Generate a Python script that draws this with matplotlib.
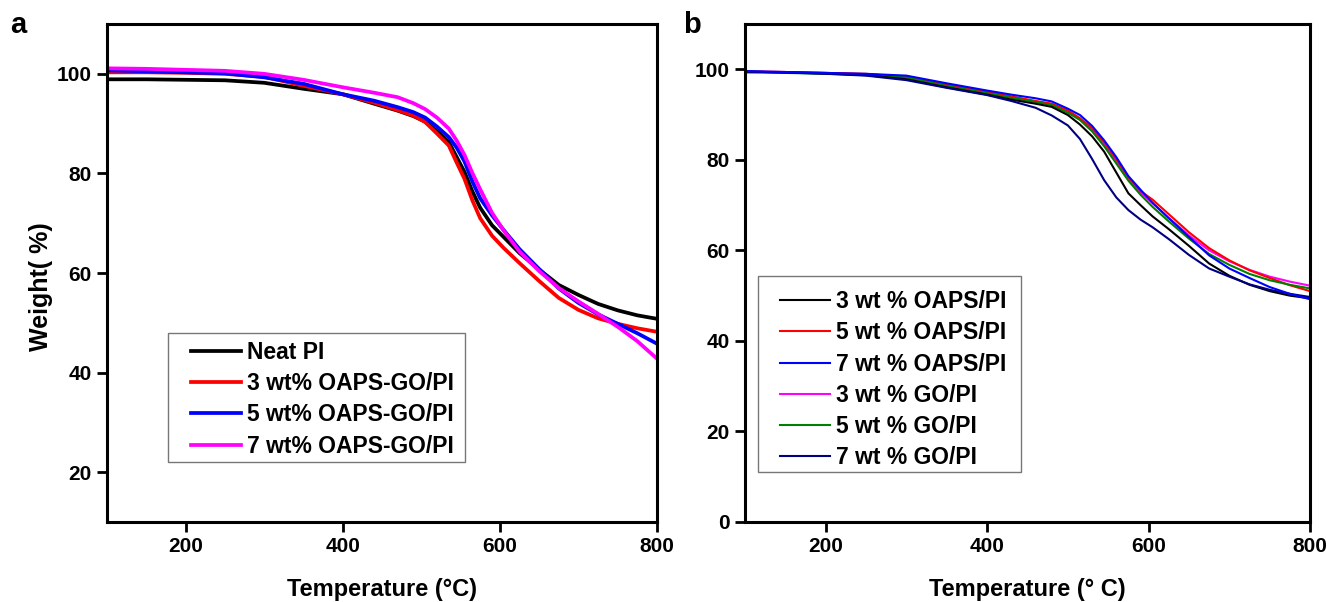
import matplotlib
matplotlib.use('Agg')
import matplotlib.pyplot as plt
from matplotlib.patches import Rectangle

# TGA curves, panel a: neat PI and OAPS-GO/PI composites
temp_a = [100, 150, 200, 250, 300, 350, 400, 440, 470, 490, 505, 520, 535, 545, 555, 565,
          575, 590, 605, 625, 650, 675, 700, 725, 750, 775, 800]
neat_pi = [98.9, 98.9, 98.8, 98.7, 98.2, 97.0, 95.9, 94.0, 92.6, 91.5, 90.4, 88.5, 86.3, 83.3, 80.3, 76.4,
           73.1, 69.6, 67.2, 64.0, 60.7, 57.6, 55.6, 53.8, 52.5, 51.5, 50.8]
oaps_go_3 = [100.3, 100.3, 100.2, 100.0, 99.4, 97.6, 95.9, 94.2, 92.7, 91.6, 90.3, 88.0, 85.6, 82.2, 78.9, 74.6,
             71.0, 67.5, 65.0, 62.0, 58.4, 55.0, 52.6, 50.9, 49.8, 48.9, 48.2]
oaps_go_5 = [100.7, 100.5, 100.3, 100.1, 99.3, 98.0, 95.9, 94.6, 93.3, 92.3, 91.2, 89.4, 87.3, 85.2, 82.4, 78.4,
             75.0, 71.6, 68.6, 64.8, 60.8, 56.9, 54.0, 51.7, 49.8, 47.9, 45.8]
oaps_go_7 = [101.1, 101.0, 100.8, 100.6, 100.0, 98.8, 97.3, 96.2, 95.3, 94.1, 92.9, 91.2, 89.0, 86.6, 83.7, 80.1,
             76.8, 72.1, 68.5, 64.3, 60.4, 57.0, 54.3, 51.8, 49.2, 46.3, 42.8]
labels_a = ['Neat PI', '3 wt% OAPS-GO/PI', '5 wt% OAPS-GO/PI', '7 wt% OAPS-GO/PI']

# panel b: OAPS/PI and GO/PI composites
temp_b = [100, 150, 200, 250, 300, 350, 400, 430, 460, 480, 500, 515, 530, 545, 560, 575,
          590, 605, 625, 650, 675, 700, 725, 750, 775, 800]
oaps_3 = [99.5, 99.3, 99.1, 98.7, 97.8, 96.0, 94.4, 93.3, 92.4, 91.7, 89.9, 87.8, 85.2, 81.8, 77.2, 72.6,
          70.0, 67.5, 64.7, 61.0, 57.1, 54.4, 52.4, 51.0, 50.0, 49.4]
oaps_5 = [99.5, 99.4, 99.2, 99.0, 98.3, 96.6, 95.0, 94.0, 93.0, 92.4, 90.9, 89.2, 87.0, 83.9, 80.2, 76.2,
          73.1, 71.2, 68.0, 64.0, 60.5, 57.8, 55.6, 53.9, 52.3, 51.0]
oaps_7 = [99.6, 99.4, 99.2, 99.0, 98.6, 96.9, 95.3, 94.4, 93.6, 92.9, 91.3, 89.9, 87.5, 84.3, 80.6, 76.4,
          73.4, 70.5, 67.1, 63.0, 58.9, 56.0, 53.9, 51.9, 50.4, 49.2]
go_3 = [99.5, 99.4, 99.2, 98.9, 98.2, 96.5, 94.9, 93.9, 92.9, 92.3, 90.6, 89.0, 86.6, 83.4, 79.7, 75.8,
        72.8, 70.4, 67.2, 63.3, 60.0, 57.6, 55.7, 54.2, 53.1, 52.2]
go_5 = [99.3, 99.2, 99.0, 98.8, 98.2, 96.3, 94.7, 93.7, 92.8, 92.1, 90.4, 88.8, 86.3, 83.0, 79.2, 75.4,
        72.3, 69.6, 66.4, 62.6, 59.2, 56.8, 54.8, 53.4, 52.4, 51.6]
go_7 = [99.5, 99.3, 99.0, 98.6, 97.6, 95.9, 94.3, 93.0, 91.5, 89.8, 87.6, 84.6, 80.2, 75.5, 71.7, 68.9,
        66.8, 65.1, 62.5, 59.0, 56.0, 54.2, 52.5, 51.3, 50.4, 49.7]
labels_b = ['3 wt % OAPS/PI', '5 wt % OAPS/PI', '7 wt % OAPS/PI',
            '3 wt % GO/PI', '5 wt % GO/PI', '7 wt % GO/PI']

plt.rcParams['font.family'] = ['Liberation Sans', 'DejaVu Sans']
plt.rcParams['font.weight'] = 'bold'

fig = plt.figure(figsize=(13.27, 6.02), dpi=100)
ax1 = fig.add_axes([0.0806, 0.1329, 0.4145, 0.8272])
ax2 = fig.add_axes([0.5614, 0.1329, 0.4258, 0.8272])


def style_axes(ax):
    for s in ax.spines.values():
        s.set_linewidth(2.2)
    ax.tick_params(direction='out', length=7, width=2, pad=4, labelsize=15,
                   top=False, right=False)
    ax.set_xlim(100, 800)
    ax.set_xticks([200, 400, 600, 800])


def boxed_legend(ax, handles, labels, anchor, frame):
    # legend without its own frame; a plain grey box is drawn around it instead
    leg = ax.legend(handles=handles, labels=labels, loc='upper left', bbox_to_anchor=anchor,
                    borderaxespad=0, borderpad=0, fontsize=16.5, handlelength=2.2,
                    handletextpad=0.25, labelspacing=0.36, frameon=False)
    x0, y0, x1, y1 = frame
    ax.add_patch(Rectangle((x0, y0), x1 - x0, y1 - y0, transform=ax.transAxes,
                           fill=False, edgecolor='#777777', lw=1.0, zorder=5, clip_on=False))
    return leg


# panel a
ha = []
ha += ax1.plot(temp_a, neat_pi, color='black', lw=2.7)
ha += ax1.plot(temp_a, oaps_go_3, color='#ff0000', lw=2.7)
ha += ax1.plot(temp_a, oaps_go_5, color='#0000ff', lw=2.7)
ha += ax1.plot(temp_a, oaps_go_7, color='#ff00ff', lw=2.7)
ax1.set_ylim(10, 110)
ax1.set_yticks([20, 40, 60, 80, 100])
style_axes(ax1)
ax1.set_xlabel('Temperature (°C)', fontsize=17, fontweight='bold', labelpad=16)
ax1.set_ylabel('Weight( %)', fontsize=18, fontweight='bold')
ax1.yaxis.set_label_coords(-0.098, 0.472)
boxed_legend(ax1, ha, labels_a, (0.1527, 0.3635), (0.1109, 0.1205, 0.651, 0.3795))

# panel b
colors_b = ['black', '#ff0000', '#0000ff', '#ff00ff', '#008000', '#000080']
series_b = [oaps_3, oaps_5, oaps_7, go_3, go_5, go_7]
hb = [None] * 6
for i in [3, 1, 4, 0, 5, 2]:
    hb[i], = ax2.plot(temp_b, series_b[i], color=colors_b[i], lw=1.5)
ax2.set_ylim(0, 110)
ax2.set_yticks([0, 20, 40, 60, 80, 100])
style_axes(ax2)
ax2.set_xlabel('Temperature (° C)', fontsize=17, fontweight='bold', labelpad=16)
boxed_legend(ax2, hb, labels_b, (0.0619, 0.4654), (0.023, 0.1006, 0.4885, 0.493))

fig.text(0.0136, 0.958, 'a', fontsize=21, fontweight='bold', va='center', ha='center')
fig.text(0.5215, 0.958, 'b', fontsize=21, fontweight='bold', va='center', ha='center')

fig.savefig('out.png', dpi=100)
